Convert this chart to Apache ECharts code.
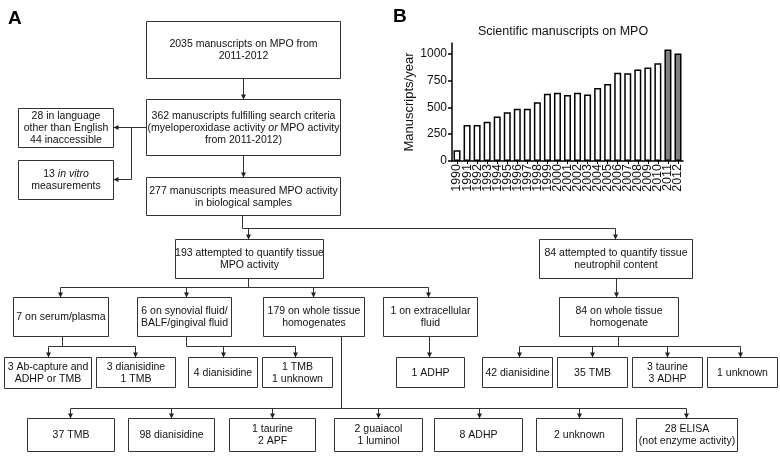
<!DOCTYPE html>
<html><head><meta charset="utf-8">
<script src="https://cdn.jsdelivr.net/npm/echarts@6/dist/echarts.min.js"></script>
<style>html,body{margin:0;padding:0;background:#fff}#c{width:780px;height:457px}</style>
</head><body><div id="c"></div>
<script>
// ---- Panel B data ----
var years = ['1990','1991','1992','1993','1994','1995','1996','1997','1998','1999','2000','2001','2002','2003','2004','2005','2006','2007','2008','2009','2010','2011','2012'];
var manuscripts = [100,335,335,365,415,455,488,488,548,627,637,615,637,620,680,718,822,818,852,872,912,1040,1002];
var highlightYears = ['2011','2012'];
var yTicks = [0,250,500,750,1000];
var chartTitle = 'Scientific manuscripts on MPO';
var yName = 'Manuscripts/year';

// ---- Panel A flowchart text ----
var nodeIds = ['n2035','n362','n28','n13','n277','n193','n84a','serum','syn','wt179','extra','wt84','ab','d3','d4','t1','adhp1','d42','t35','tau3','unk1','t37','d98','tau1','gua','adhp8','unk2','elisa'];
var nodeTexts = {
  n2035: '2035 manuscripts on MPO from\n2011-2012',
  n362: '362 manuscripts fulfilling search criteria\n(myeloperoxidase activity {i|or} MPO activity\nfrom 2011-2012)',
  n28: '28 in language\nother than English\n44 inaccessible',
  n13: '13 {i|in vitro}\nmeasurements',
  n277: '277 manuscripts measured MPO activity\nin biological samples',
  n193: '193 attempted to quantify tissue\nMPO activity',
  n84a: '84 attempted to quantify tissue\nneutrophil content',
  serum: '7 on serum/plasma',
  syn: '6 on synovial fluid/\nBALF/gingival fluid',
  wt179: '179 on whole tissue\nhomogenates',
  extra: '1 on extracellular\nfluid',
  wt84: '84 on whole tissue\nhomogenate',
  ab: '3 Ab-capture and\nADHP or TMB',
  d3: '3 dianisidine\n1 TMB',
  d4: '4 dianisidine',
  t1: '1 TMB\n1 unknown',
  adhp1: '1 ADHP',
  d42: '42 dianisidine',
  t35: '35 TMB',
  tau3: '3 taurine\n3 ADHP',
  unk1: '1 unknown',
  t37: '37 TMB',
  d98: '98 dianisidine',
  tau1: '1 taurine\n2 APF',
  gua: '2 guaiacol\n1 luminol',
  adhp8: '8 ADHP',
  unk2: '2 unknown',
  elisa: '28 ELISA\n(not enzyme activity)'
};

// ---- Layout (positions only) ----
var boxes = {
  n2035:[146,21,194,57], n362:[146,99,194,56], n28:[18,108,95,39], n13:[18,160,95,39],
  n277:[146,177,194,38], n193:[175,239,148,39], n84a:[539,239,153,39],
  serum:[13,297,95,39], syn:[137,297,94,39], wt179:[263,297,101,39], extra:[383,297,94,39], wt84:[559,297,119,39],
  ab:[4,357,87,31], d3:[96,357,79,30], d4:[188,357,69,30], t1:[262,357,70,30], adhp1:[396,357,68,30],
  d42:[482,357,70,30], t35:[557,357,70,30], tau3:[632,357,70,30], unk1:[707,357,70,30],
  t37:[27,418,87,33], d98:[128,418,86,33], tau1:[229,418,86,33], gua:[334,418,88,33], adhp8:[434,418,88,33], unk2:[536,418,86,33], elisa:[636,418,101,33]
};
// connector polylines: [points, hasArrowhead]
var lines = [
  [[[243,78],[243,99]],1],
  [[[243,155],[243,177]],1],
  [[[146,127],[113,127]],1],
  [[[131,127],[131,179],[113,179]],1],
  [[[242,215],[242,228],[615,228],[615,239]],1],
  [[[248,228],[248,239]],1],
  [[[248,278],[248,287]],0],
  [[[60,287],[428,287]],0],
  [[[60,287],[60,297]],1],[[[186,287],[186,297]],1],[[[313,287],[313,297]],1],[[[428,287],[428,297]],1],
  [[[616,278],[616,297]],1],
  [[[62,336],[62,346]],0],[[[48,346],[135,346]],0],[[[48,346],[48,357]],1],[[[135,346],[135,357]],1],
  [[[186,336],[186,346],[295,346]],0],[[[223,346],[223,357]],1],[[[295,346],[295,357]],1],
  [[[341,336],[341,408]],0],[[[70,408],[686,408]],0],
  [[[70,408],[70,418]],1],[[[171,408],[171,418]],1],[[[272,408],[272,418]],1],[[[378,408],[378,418]],1],[[[479,408],[479,418]],1],[[[579,408],[579,418]],1],[[[686,408],[686,418]],1],
  [[[429,336],[429,357]],1],
  [[[618,336],[618,346]],0],[[[519,346],[740,346]],0],
  [[[519,346],[519,357]],1],[[[592,346],[592,357]],1],[[[667,346],[667,357]],1],[[[740,346],[740,357]],1]
];

var FONT = '"Liberation Sans", Arial, sans-serif';
var FS = 10.5;
var graphics = [];
nodeIds.forEach(function(id){
  var b = boxes[id];
  graphics.push({type:'rect', shape:{x:b[0]+0.5,y:b[1]+0.5,width:b[2],height:b[3]}, style:{fill:'#fff',stroke:'#333',lineWidth:1}, z:10});
  graphics.push({type:'text', x:b[0]+b[2]/2+0.5, y:b[1]+b[3]/2+1, z:11, style:{
    text:nodeTexts[id], align:'center', verticalAlign:'middle', fill:'#111',
    font:FS+'px '+FONT, lineHeight:12,
    rich:{i:{fontStyle:'italic',fontSize:FS,fontFamily:'Liberation Sans',lineHeight:12,fill:'#111'}}
  }});
});
lines.forEach(function(item){
  var p = item[0].map(function(q){return [q[0]+0.5,q[1]+0.5];});
  graphics.push({type:'polyline', shape:{points:p}, style:{stroke:'#333',lineWidth:1,fill:null}, z:5});
  if (!item[1]) return;
  var a = p[p.length-1], b = p[p.length-2];
  var dx = a[0]-b[0], dy = a[1]-b[1], L = Math.sqrt(dx*dx+dy*dy); dx/=L; dy/=L;
  var len=5, hw=2.5;
  var tri = [[a[0],a[1]],[a[0]-dx*len-dy*hw,a[1]-dy*len+dx*hw],[a[0]-dx*len+dy*hw,a[1]-dy*len-dx*hw]];
  graphics.push({type:'polygon', shape:{points:tri}, style:{fill:'#222'}, z:12});
});
graphics.push({type:'text', x:8, y:9, style:{text:'A', font:'bold 19px '+FONT, fill:'#000'}});
graphics.push({type:'text', x:393, y:7, style:{text:'B', font:'bold 19px '+FONT, fill:'#000'}});

var chart = echarts.init(document.getElementById('c'), null, {renderer:'canvas'});
chart.setOption({
  animation:false,
  title:{text:chartTitle, left:558, top:20, textAlign:'center', textStyle:{fontSize:12.5,fontWeight:'normal',color:'#111',fontFamily:FONT}},
  grid:{left:452, top:43, width:231, height:118, containLabel:false},
  xAxis:{type:'category', data:years, boundaryGap:true,
    axisLine:{lineStyle:{color:'#000',width:1.5}},
    axisTick:{show:true, alignWithLabel:true, length:3, lineStyle:{color:'#000',width:1}},
    axisLabel:{rotate:90, interval:0, fontSize:12.5, color:'#111', fontFamily:FONT, margin:3}},
  yAxis:{type:'value', min:0, max:1100, interval:250,
    name:yName, nameLocation:'middle', nameRotate:90, nameGap:31, nameTextStyle:{fontSize:13,color:'#111',fontFamily:FONT},
    axisLine:{show:true, lineStyle:{color:'#000',width:1.5}},
    axisTick:{show:true, length:4, customValues:yTicks, lineStyle:{color:'#000',width:1.5}},
    axisLabel:{customValues:yTicks, fontSize:12, color:'#111', fontFamily:FONT, margin:5, formatter:function(v){return String(v);}},
    splitLine:{show:false}},
  series:[{type:'bar', barWidth:7,
    data:manuscripts.map(function(v,i){
      var hl = highlightYears.indexOf(years[i])>=0;
      return {value:v, itemStyle:{color: hl ? '#808080' : '#fff', borderColor:'#000', borderWidth:1.5}};
    })}],
  graphic:graphics
});
</script></body></html>
